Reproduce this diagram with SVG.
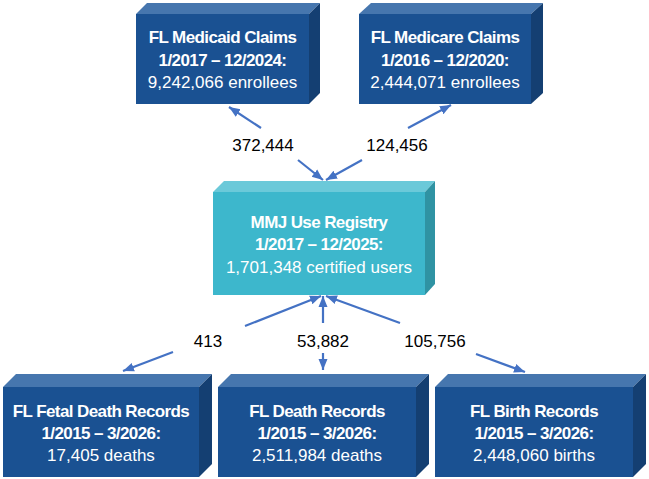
<svg xmlns="http://www.w3.org/2000/svg" width="649" height="479" viewBox="0 0 649 479">
<defs>
<style>
.front{fill:#1A5192}
.top{fill:#4676AE}
.side{fill:#143F72}
.mfront{fill:#3DB7CC}
.mtop{fill:#6BC9D9}
.mside{fill:#2F93A3}
.t{font-family:"Liberation Sans",Arial,sans-serif;font-size:17px;fill:#fff;text-anchor:middle}
.b{font-weight:bold;letter-spacing:-0.6px}
.lbl{font-family:"Liberation Sans",Arial,sans-serif;font-size:17px;fill:#000;text-anchor:middle}
.c{stroke:#4472C4;stroke-width:2.2;fill:none;marker-end:url(#ah)}
</style>
<marker id="ah" markerUnits="userSpaceOnUse" markerWidth="12" markerHeight="12" viewBox="0 0 12 12" refX="11" refY="6" orient="auto">
<path d="M0,1.5 L11,6 L0,10.5 Z" fill="#4472C4"/>
</marker>
</defs>
<g id="connectors">
<line class="c" x1="261" y1="128" x2="229" y2="107"/>
<line class="c" x1="408" y1="128" x2="451" y2="105"/>
<line class="c" x1="298" y1="160" x2="323" y2="180"/>
<line class="c" x1="362" y1="160" x2="326" y2="180"/>
<line class="c" x1="245" y1="326" x2="321" y2="296"/>
<line class="c" x1="323" y1="323" x2="323" y2="296"/>
<line class="c" x1="400" y1="323" x2="326" y2="296"/>
<line class="c" x1="173" y1="352" x2="123" y2="371"/>
<line class="c" x1="323" y1="353" x2="323" y2="370"/>
<line class="c" x1="476" y1="354" x2="525" y2="372"/>
<text class="lbl" x="263" y="151">372,444</text>
<text class="lbl" x="397" y="151">124,456</text>
<text class="lbl" x="208" y="347">413</text>
<text class="lbl" x="323" y="347">53,882</text>
<text class="lbl" x="435" y="347">105,756</text>
</g>
<g id="medicaid">
<polygon class="top" points="136,14 147,3 320,3 309,14"/>
<polygon class="side" points="309,14 320,3 320,93 309,104"/>
<rect class="front" x="136" y="14" width="173" height="90"/>
<text class="t b" x="222.5" y="43">FL Medicaid Claims</text>
<text class="t b" x="222.5" y="66">1/2017 – 12/2024:</text>
<text class="t" x="222.5" y="88">9,242,066 enrollees</text>
</g>
<g id="medicare">
<polygon class="top" points="359,14 371,3 543,3 531,14"/>
<polygon class="side" points="531,14 543,3 543,93 531,104"/>
<rect class="front" x="359" y="14" width="172" height="90"/>
<text class="t b" x="445" y="43">FL Medicare Claims</text>
<text class="t b" x="445" y="66">1/2016 – 12/2020:</text>
<text class="t" x="445" y="88">2,444,071 enrollees</text>
</g>
<g id="mmj">
<polygon class="mtop" points="213,192 224,181 435,181 425,192"/>
<polygon class="mside" points="425,192 435,181 435,284 425,295"/>
<rect class="mfront" x="213" y="192" width="212" height="103"/>
<text class="t b" x="319" y="228">MMJ Use Registry</text>
<text class="t b" x="319" y="250">1/2017 – 12/2025:</text>
<text class="t" x="319" y="273">1,701,348 certified users</text>
</g>
<g id="fetal">
<polygon class="top" points="3,387 16,374 212,374 199,387"/>
<polygon class="side" points="199,387 212,374 212,464 199,477"/>
<rect class="front" x="3" y="387" width="196" height="90"/>
<text class="t b" x="101" y="417">FL Fetal Death Records</text>
<text class="t b" x="101" y="439">1/2015 – 3/2026:</text>
<text class="t" x="101" y="461">17,405 deaths</text>
</g>
<g id="death">
<polygon class="top" points="218,387 231,374 429,374 416,387"/>
<polygon class="side" points="416,387 429,374 429,464 416,477"/>
<rect class="front" x="218" y="387" width="198" height="90"/>
<text class="t b" x="317" y="417">FL Death Records</text>
<text class="t b" x="317" y="439">1/2015 – 3/2026:</text>
<text class="t" x="317" y="461">2,511,984 deaths</text>
</g>
<g id="birth">
<polygon class="top" points="435,387 448,374 646,374 633,387"/>
<polygon class="side" points="633,387 646,374 646,464 633,477"/>
<rect class="front" x="435" y="387" width="198" height="90"/>
<text class="t b" x="534" y="417">FL Birth Records</text>
<text class="t b" x="534" y="439">1/2015 – 3/2026:</text>
<text class="t" x="534" y="461">2,448,060 births</text>
</g>
</svg>
